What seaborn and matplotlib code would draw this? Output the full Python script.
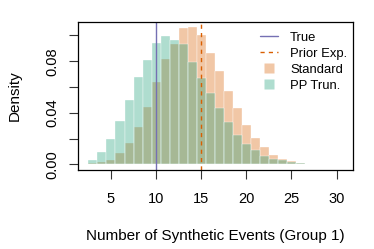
import numpy as np
import pandas as pd
import matplotlib
matplotlib.use("Agg")
import matplotlib.pyplot as plt
import seaborn as sns
from matplotlib.lines import Line2D

# ---- data ----
bin_centers = list(range(3, 31))
standard_density = [0.0009, 0.0019, 0.0037, 0.0089, 0.0164, 0.0287, 0.0448, 0.0640,
                    0.0815, 0.0936, 0.1059, 0.1064, 0.1005, 0.0867, 0.0727, 0.0571,
                    0.0436, 0.0307, 0.0205, 0.0136, 0.0076, 0.0045, 0.0024, 0.0012,
                    0.0005, 0.0003, 0.0002, 0.0001]
pptrun_density = [0.0037, 0.0099, 0.0200, 0.0337, 0.0500, 0.0677, 0.0809, 0.0943,
                  0.0998, 0.0967, 0.0936, 0.0797, 0.0673, 0.0553, 0.0435, 0.0332,
                  0.0229, 0.0161, 0.0109, 0.0068, 0.0045, 0.0032, 0.0016, 0.0009,
                  0.0005, 0.0003, 0.0001, 0.0001]
true_value = 10
prior_expectation = 15
x_ticks = [5, 10, 15, 20, 25, 30]
y_ticks = [0.00, 0.02, 0.04, 0.06, 0.08, 0.10]
y_ticklabels = ["0.00", "", "0.04", "", "0.08", ""]

col_orange = "#D95F02"
col_teal = "#1B9E77"
col_purple = "#7570B3"

df = pd.DataFrame({"x": bin_centers, "standard": standard_density, "pptrun": pptrun_density})
edges = [c - 0.5 for c in bin_centers] + [bin_centers[-1] + 0.5]

sns.set_style("ticks")
plt.rcParams["font.family"] = ["Liberation Sans", "DejaVu Sans"]
plt.rcParams["text.color"] = "black"
plt.rcParams["axes.labelcolor"] = "black"
plt.rcParams["xtick.color"] = "black"
plt.rcParams["ytick.color"] = "black"

fig = plt.figure(figsize=(3.74, 2.49), dpi=100)
ax = fig.add_axes([78.3 / 374, (249 - 170) / 249, (353.3 - 78.3) / 374, (170 - 21.7) / 249])

sns.histplot(data=df, x="x", weights="standard", bins=edges, stat="count",
             color=col_orange, alpha=0.35, edgecolor="white", linewidth=0.25, ax=ax)
sns.histplot(data=df, x="x", weights="pptrun", bins=edges, stat="count",
             color=col_teal, alpha=0.35, edgecolor="white", linewidth=0.25, ax=ax)

ax.axvline(true_value, color=col_purple, lw=1.0)
ax.axvline(prior_expectation, color=col_orange, lw=1.0, dashes=(3, 3))

ax.set_xlim(1.378, 31.85)
ax.set_ylim(-0.0043, 0.1107)
ax.set_xticks(x_ticks)
ax.set_xticklabels([str(t) for t in x_ticks], fontsize=10.5)
ax.set_yticks(y_ticks)
ax.set_yticklabels(y_ticklabels, fontsize=10.5, rotation=90, va="center")
ax.tick_params(axis="both", direction="out", length=6.5, width=0.8, color="#333333",
               labelcolor="black", bottom=True, left=True, top=False, right=False)
ax.tick_params(axis="x", pad=9)
ax.tick_params(axis="y", pad=7)
for s in ax.spines.values():
    s.set_visible(True)
    s.set_color("black")
    s.set_linewidth(0.9)

ax.set_xlabel("Number of Synthetic Events (Group 1)", fontsize=11, labelpad=17, color="black")
ax.set_ylabel("Density", fontsize=11, labelpad=17, color="black")

handles = [
    Line2D([0], [0], color=col_purple, lw=1.0),
    Line2D([0], [0], color=col_orange, lw=1.0, dashes=(3, 3)),
    Line2D([0], [0], linestyle="none", marker="s", markersize=6.5,
           markerfacecolor=col_orange, markeredgecolor="none", alpha=0.35),
    Line2D([0], [0], linestyle="none", marker="s", markersize=6.5,
           markerfacecolor=col_teal, markeredgecolor="none", alpha=0.35),
]
labels = ["True", "Prior Exp.", "Standard", "PP Trun."]
ax.legend(handles, labels, loc="upper left", bbox_to_anchor=(0.625, 1.0), frameon=False,
          fontsize=9.4, handlelength=1.4, handletextpad=0.9,
          labelspacing=0.3, borderaxespad=0.35)

fig.savefig("out.png", dpi=100)
